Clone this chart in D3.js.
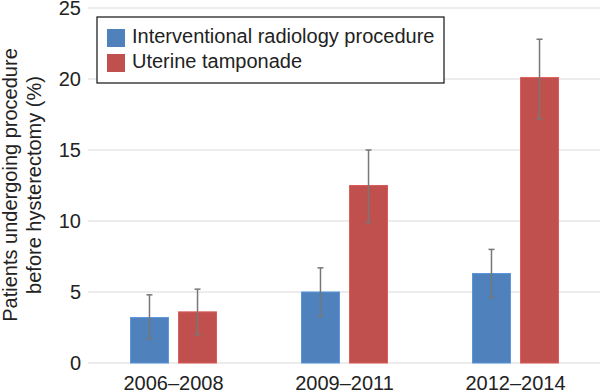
<!DOCTYPE html>
<meta charset="utf-8">
<style>
body { margin: 0; background: #fff; }
text { font-family: "Liberation Sans", Arial, sans-serif; fill: #222; }
.grid line { stroke: #d9d9d9; stroke-width: 1.2px; }
.err { stroke: #777; stroke-width: 1.5px; }
</style>
<svg width="600" height="392"></svg>
<script src="https://cdn.jsdelivr.net/npm/d3@7/dist/d3.min.js"></script>
<script>
var periods = ["2006\u20132008", "2009\u20132011", "2012\u20132014"];
var seriesNames = ["Interventional radiology procedure", "Uterine tamponade"];
var colors = ["#4f81bd", "#c0504d"];
var radiology = [3.2, 5.0, 6.3];
var radiologyLow = [1.7, 3.3, 4.6];
var radiologyHigh = [4.8, 6.7, 8.0];
var tamponade = [3.6, 12.5, 20.1];
var tamponadeLow = [2.0, 9.9, 17.2];
var tamponadeHigh = [5.2, 15.0, 22.8];
var yTicks = [0, 5, 10, 15, 20, 25];

var svg = d3.select("svg");
var plotLeft = 88, plotRight = 601, plotTop = 8, plotBottom = 363;

var x = d3.scaleBand().domain(periods).range([plotLeft, plotRight]);
var sub = d3.scaleBand().domain([0, 1]).range([x.bandwidth() / 2 - 43, x.bandwidth() / 2 + 43]).paddingInner(0.21);
var y = d3.scaleLinear().domain([0, 25]).range([plotBottom, plotTop]);

// gridlines + tick labels
var grid = svg.append("g").attr("class", "grid");
grid.selectAll("line").data(yTicks).enter().append("line")
  .attr("x1", plotLeft).attr("x2", 600)
  .attr("y1", function(d) { return y(d); })
  .attr("y2", function(d) { return y(d); });
svg.append("g").selectAll("text").data(yTicks).enter().append("text")
  .attr("x", 81).attr("y", function(d) { return y(d) + 7; })
  .attr("text-anchor", "end").style("font-size", "20px")
  .text(function(d) { return d; });

// bars
var rows = [];
periods.forEach(function(p, i) {
  rows.push({p: p, s: 0, v: radiology[i], lo: radiologyLow[i], hi: radiologyHigh[i]});
  rows.push({p: p, s: 1, v: tamponade[i], lo: tamponadeLow[i], hi: tamponadeHigh[i]});
});

var g = svg.append("g").selectAll("g").data(rows).enter().append("g")
  .attr("transform", function(d) { return "translate(" + (x(d.p) + sub(d.s)) + ",0)"; });

g.append("rect")
  .attr("width", sub.bandwidth())
  .attr("y", function(d) { return y(d.v); })
  .attr("height", function(d) { return y(0) - y(d.v); })
  .attr("fill", function(d) { return colors[d.s]; })
  .attr("stroke", function(d) { return d3.color(colors[d.s]).brighter(0.4); })
  .attr("stroke-width", 1);

var cx = sub.bandwidth() / 2;
g.append("line").attr("class", "err")
  .attr("x1", cx).attr("x2", cx)
  .attr("y1", function(d) { return y(d.lo); })
  .attr("y2", function(d) { return y(d.hi); });
g.append("line").attr("class", "err")
  .attr("x1", cx - 3).attr("x2", cx + 3)
  .attr("y1", function(d) { return y(d.hi); })
  .attr("y2", function(d) { return y(d.hi); });
g.append("line").attr("class", "err")
  .attr("x1", cx - 3).attr("x2", cx + 3)
  .attr("y1", function(d) { return y(d.lo); })
  .attr("y2", function(d) { return y(d.lo); });

// x labels
svg.append("g").selectAll("text").data(periods).enter().append("text")
  .attr("x", function(d) { return x(d) + x.bandwidth() / 2; })
  .attr("y", 390).attr("text-anchor", "middle").style("font-size", "20px")
  .text(function(d) { return d; });

// y title
var yt = svg.append("text").attr("transform", "translate(17,185) rotate(-90)")
  .attr("text-anchor", "middle").style("font-size", "20px");
yt.append("tspan").attr("x", 0).attr("y", 0).text("Patients undergoing procedure");
yt.append("tspan").attr("x", 0).attr("y", 24).text("before hysterectomy (%)");

// legend
var leg = svg.append("g");
leg.append("rect").attr("x", 97).attr("y", 17).attr("width", 347).attr("height", 66)
  .attr("fill", "#fff").attr("stroke", "#111").attr("stroke-width", 1.2);
var li = leg.selectAll("g.item").data(seriesNames).enter().append("g")
  .attr("transform", function(d, i) { return "translate(107," + (29 + i * 25) + ")"; });
li.append("rect").attr("width", 18).attr("height", 18)
  .attr("fill", function(d, i) { return colors[i]; });
li.append("text").attr("x", 25).attr("y", 14).style("font-size", "20px")
  .text(function(d) { return d; });
</script>
